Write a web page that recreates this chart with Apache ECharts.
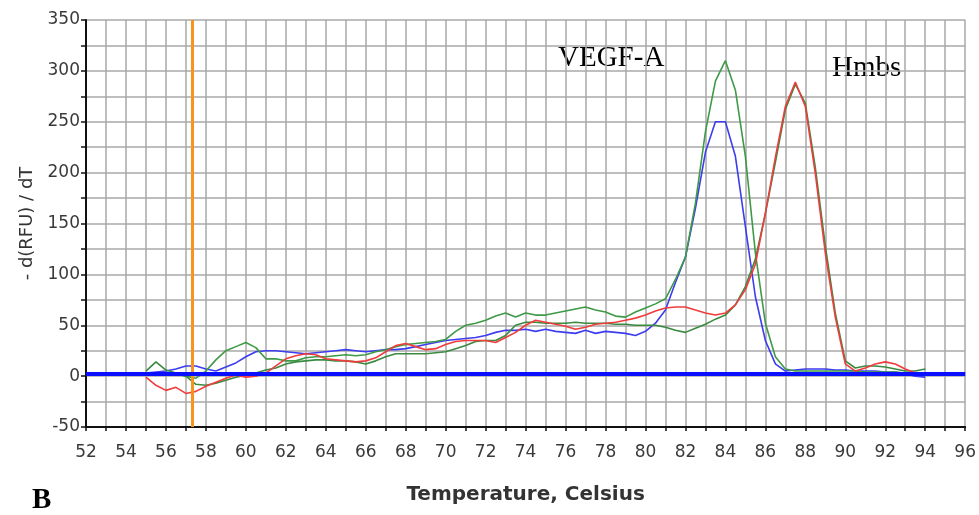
<!DOCTYPE html>
<html>
<head>
<meta charset="utf-8">
<script src="https://cdn.jsdelivr.net/npm/echarts@6/dist/echarts.min.js"></script>
<style>html,body{margin:0;padding:0;background:#fff}#c{width:979px;height:515px}</style>
</head>
<body>
<div id="c"></div>
<script>
const temps = [55,55.5,56,56.5,57,57.5,58,58.5,59,59.5,60,60.5,61,61.5,62,62.5,63,63.5,64,64.5,65,65.5,66,66.5,67,67.5,68,68.5,69,69.5,70,70.5,71,71.5,72,72.5,73,73.5,74,74.5,75,75.5,76,76.5,77,77.5,78,78.5,79,79.5,80,80.5,81,81.5,82,82.5,83,83.5,84,84.5,85,85.5,86,86.5,87,87.5,88,88.5,89,89.5,90,90.5,91,91.5,92,92.5,93,93.5,94];

const vegfGreen = [2,3,3,2,0,-2,5,16,25,29,33,28,17,17,15,15,18,19,19,20,21,20,21,24,26,29,31,32,33,34,36,44,50,52,55,59,62,58,62,60,60,62,64,66,68,65,63,59,58,63,67,71,76,95,117,170,240,290,310,281,216,121,52,19,7,5,5,5,5,5,5,5,4,4,4,4,3,3,3];

const vegfBlue = [3,4,5,7,10,10,7,5,9,13,19,24,25,25,24,23,22,23,24,25,26,25,24,25,26,26,27,29,31,33,35,36,37,38,40,43,45,45,46,44,46,44,43,42,45,42,44,43,42,40,44,52,65,92,117,165,220,250,250,216,147,78,35,12,5,6,7,7,7,6,6,5,5,5,4,4,2,0,-1];

const hmbsRed = [-1,-9,-14,-11,-17,-15,-10,-6,-2,1,-1,0,3,10,17,20,22,21,17,16,15,14,15,18,24,30,32,29,26,27,31,34,35,35,35,33,38,43,50,55,53,51,49,46,48,51,52,53,55,57,60,64,67,68,68,65,62,60,62,70,85,110,160,215,265,289,265,199,121,58,12,5,8,12,14,12,7,3,2];

const hmbsGreen = [5,14,6,3,0,-8,-9,-7,-4,-1,1,3,6,8,12,14,15,16,16,15,15,14,12,15,19,22,22,22,22,23,24,27,30,34,35,35,40,50,53,53,52,52,52,53,52,52,52,51,51,50,50,50,48,45,43,47,51,56,60,70,88,115,160,210,262,287,268,205,128,62,15,8,10,10,9,7,5,5,7];

const baselineLevel = 2;
const markerTemp = 57.3;
const xTickLabels = [52,54,56,58,60,62,64,66,68,70,72,74,76,78,80,82,84,86,88,90,92,94,96];
const yTickLabels = [-50,0,50,100,150,200,250,300,350];

const xMin = 52, xMax = 96, yMin = -50, yMax = 350;

function pairs(vals){ return temps.map((t,i)=>[t, vals[i]]); }

const chart = echarts.init(document.getElementById('c'), null, {renderer:'canvas'});
const labelFont = {color:'#3a3a3a', fontSize:17, fontFamily:'DejaVu Sans'};

chart.setOption({
  animation:false,
  backgroundColor:'#ffffff',
  grid:{left:86, right:12, top:20, bottom:88, containLabel:false},
  xAxis:{
    type:'value', min:xMin, max:xMax, interval:1,
    name:'Temperature, Celsius', nameLocation:'middle', nameGap:58,
    nameTextStyle:{color:'#333', fontSize:20, fontWeight:'bold', fontFamily:'DejaVu Sans'},
    axisLine:{show:true, onZero:false, lineStyle:{color:'#111', width:2}},
    axisTick:{show:true, length:4, lineStyle:{color:'#111', width:1.5}},
    axisLabel:Object.assign({margin:17, formatter:v=> xTickLabels.indexOf(v)>=0 ? String(v) : ''}, labelFont),
    splitLine:{show:true, lineStyle:{color:'#a9a9a9', width:1.5}}
  },
  yAxis:{
    type:'value', min:yMin, max:yMax, interval:25,
    name:'- d(RFU) / dT', nameLocation:'middle', nameGap:50, nameRotate:90,
    nameTextStyle:{color:'#333', fontSize:18, fontFamily:'DejaVu Sans'},
    axisLine:{show:true, onZero:false, lineStyle:{color:'#111', width:2}},
    axisTick:{show:true, length:5, lineStyle:{color:'#111', width:1.5}},
    axisLabel:Object.assign({margin:6, formatter:v=> yTickLabels.indexOf(v)>=0 ? String(v) : ''}, labelFont),
    splitLine:{show:true, lineStyle:{color:'#a9a9a9', width:1.5}}
  },
  series:[
    {type:'line', name:'VEGF-A blue', data:pairs(vegfBlue), showSymbol:false, lineStyle:{color:'#3c3cf0', width:1.6}, z:3},
    {type:'line', name:'VEGF-A green', data:pairs(vegfGreen), showSymbol:false, lineStyle:{color:'#3e9a46', width:1.6}, z:3},
    {type:'line', name:'Hmbs green', data:pairs(hmbsGreen), showSymbol:false, lineStyle:{color:'#3a8a40', width:1.6}, z:3},
    {type:'line', name:'Hmbs red', data:pairs(hmbsRed), showSymbol:false, lineStyle:{color:'#f03c3c', width:1.6}, z:4,
      markLine:{silent:true, symbol:'none', label:{show:false}, lineStyle:{color:'#f7941d', width:3, type:'solid'}, data:[{xAxis:markerTemp}]}},
    {type:'line', name:'baseline', data:[[xMin,baselineLevel],[xMax,baselineLevel]], showSymbol:false, lineStyle:{color:'#0a10ff', width:4}, z:5}
  ],
  graphic:[
    {type:'text', left:558, top:44, style:{text:'VEGF-A', fill:'#000', font:'29px "Liberation Serif"'}},
    {type:'text', left:832, top:54, style:{text:'Hmbs', fill:'#000', font:'29px "Liberation Serif"'}},
    {type:'text', left:32, top:486, style:{text:'B', fill:'#000', font:'bold 29px "Liberation Serif"'}}
  ]
});
</script>
</body>
</html>
